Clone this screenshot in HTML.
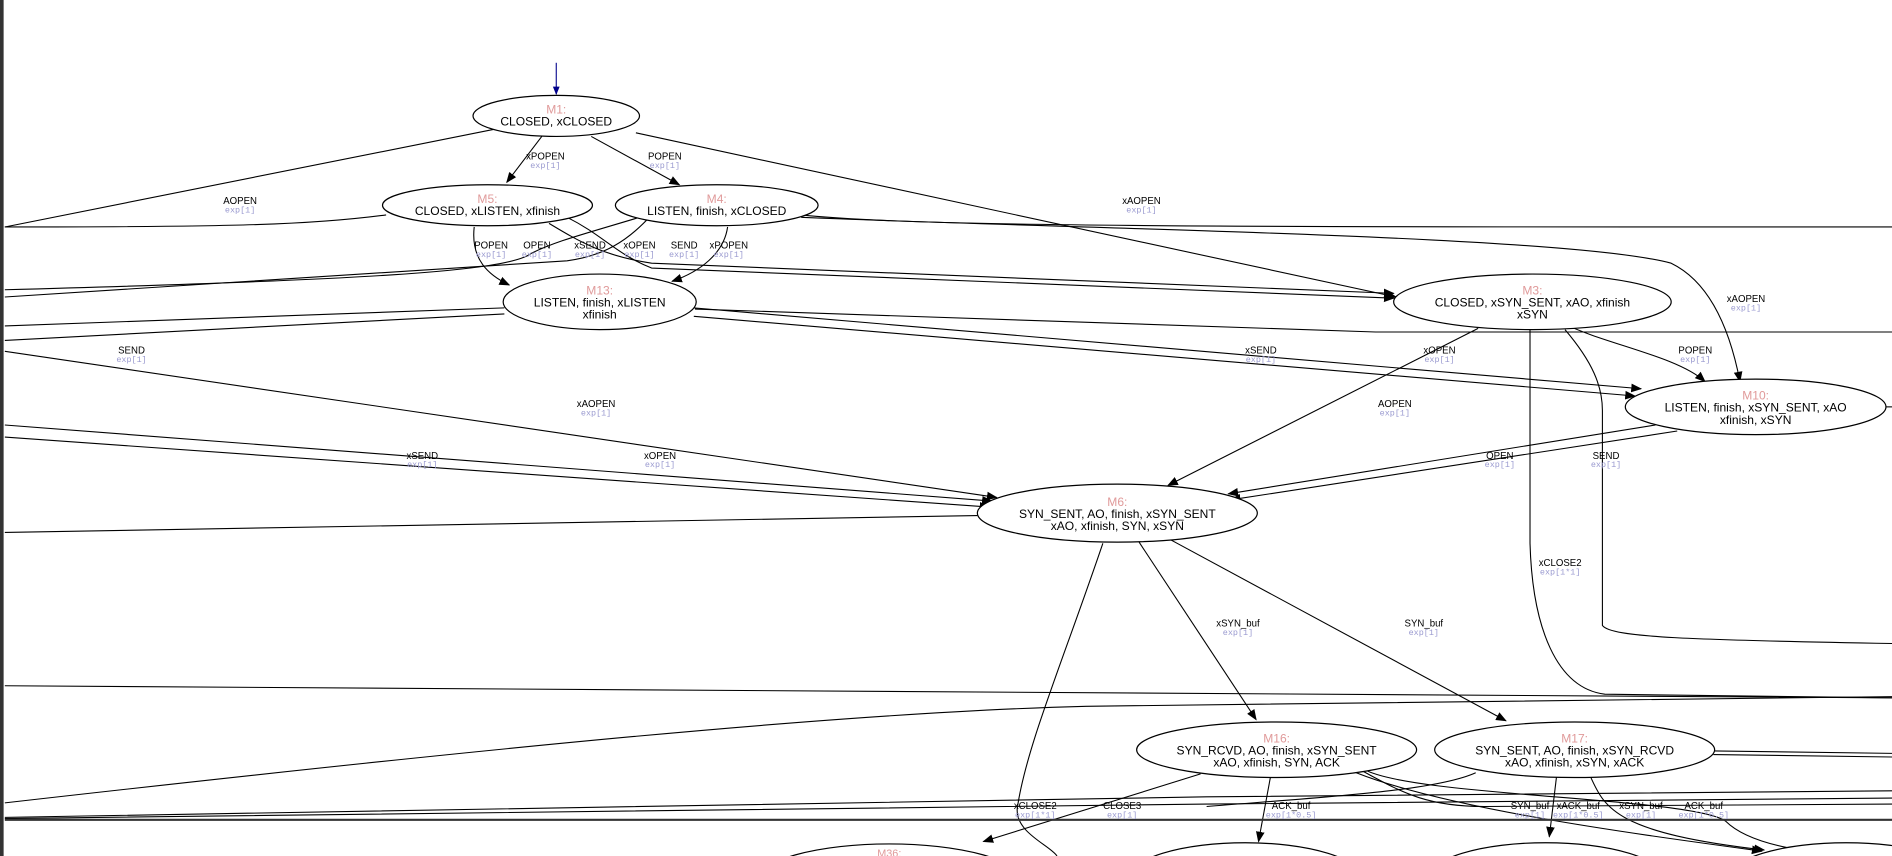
<!DOCTYPE html>
<html><head><meta charset="utf-8"><style>
html,body{margin:0;padding:0;background:#fff;width:1892px;height:856px;overflow:hidden}
svg{display:block;overflow:hidden}
.n{font-family:"Liberation Sans",sans-serif;font-size:10px;fill:#000;text-anchor:middle}
.m{fill:#e09a9a}
.l{font-family:"Liberation Sans",sans-serif;font-size:8px;fill:#000;text-anchor:middle}
.e{font-family:"Liberation Mono",monospace;font-size:7px;fill:#9a9ad0;text-anchor:middle}
path,line{fill:none;stroke:#000;stroke-width:0.9}
ellipse{fill:#fff;stroke:#000;stroke-width:1}
</style></head><body>
<svg width="1892" height="856" viewBox="0 0 1568 709" preserveAspectRatio="none">
<defs><marker id="a" viewBox="0 0 10 10" refX="9" refY="5" markerWidth="9" markerHeight="9" orient="auto" markerUnits="userSpaceOnUse"><path d="M0,1 L10,5 L0,9z" style="fill:#000;stroke:none"/></marker>
<marker id="b" viewBox="0 0 10 10" refX="9" refY="5" markerWidth="7" markerHeight="7" orient="auto" markerUnits="userSpaceOnUse"><path d="M0,1 L10,5 L0,9z" style="fill:#00008b;stroke:none"/></marker></defs>
<rect x="0" y="0" width="3" height="709" fill="#333"/>
<line x1="461" y1="52" x2="461" y2="78" style="stroke:#00008b" marker-end="url(#b)"/>
<path d="M449,113 L420,151" marker-end="url(#a)"/>
<path d="M490,113 L563,153" marker-end="url(#a)"/>
<path d="M410,107 L4,188"/>
<path d="M527,110 L1157,246" marker-end="url(#a)"/>
<path d="M320,178 C260,186 200,188 4,188"/>
<path d="M664,178 C760,188 1000,188 1568,188"/>
<path d="M664,180 C900,190 1300,195 1385,218 C1420,235 1435,280 1442,316" marker-end="url(#a)"/>
<path d="M455,185 C480,200 500,212 540,218 L1155,243" marker-end="url(#a)"/>
<path d="M470,180 C500,195 510,210 540,222 L1155,247" marker-end="url(#a)"/>
<path d="M530,180 C480,195 460,200 440,210 C420,225 300,232 4,240"/>
<path d="M540,178 C520,200 500,212 470,216 L4,246"/>
<path d="M393,188 C390,215 405,228 422,236" marker-end="url(#a)"/>
<path d="M603,188 C600,210 580,225 557,233" marker-end="url(#a)"/>
<path d="M418,255 L4,270"/>
<path d="M418,260 L4,282"/>
<path d="M4,291 L826,412" marker-end="url(#a)"/>
<path d="M575,255 L1360,322" marker-end="url(#a)"/>
<path d="M575,262 L1355,328" marker-end="url(#a)"/>
<path d="M576,256 L1140,275 L1568,275"/>
<path d="M4,352 L822,415" marker-end="url(#a)"/>
<path d="M4,362 L820,420" marker-end="url(#a)"/>
<path d="M810,427 L4,441"/>
<path d="M1225,272 L968,402" marker-end="url(#a)"/>
<path d="M1372,352 L1018,409" marker-end="url(#a)"/>
<path d="M1390,357 L1020,414" marker-end="url(#a)"/>
<path d="M1296,268 C1330,285 1390,295 1413,316" marker-end="url(#a)"/>
<path d="M1268,273 L1268,450 C1270,520 1290,570 1330,575 L1568,578"/>
<path d="M1297,273 C1320,300 1328,320 1328,340 L1328,518 C1335,528 1400,530 1568,533"/>
<path d="M1563,337 L1568,337"/>
<path d="M944,449 L1041,596" marker-end="url(#a)"/>
<path d="M970,447 L1248,597" marker-end="url(#a)"/>
<path d="M914,450 C880,550 850,620 843,670 C842,690 870,700 876,709"/>
<path d="M4,568 L1568,578"/>
<path d="M4,665 C400,620 700,590 900,585 L1568,577"/>
<path d="M4,678 L1000,666 L1568,661"/>
<path d="M4,677 L1000,660 L1568,655"/>
<path d="M995,641 L815,697" marker-end="url(#a)"/>
<path d="M1053,643 L1043,697" marker-end="url(#a)"/>
<path d="M1124,640 C1200,670 1350,690 1460,705" marker-end="url(#a)"/>
<path d="M1128,638 C1160,655 1180,668 1230,668 L1568,666"/>
<path d="M1130,637 C1170,660 1400,660 1430,680 C1450,700 1500,709 1568,709"/>
<path d="M1223,640 C1190,655 1100,660 1000,668"/>
<path d="M1290,643 L1284,693" marker-end="url(#a)"/>
<path d="M1318,643 C1330,670 1340,690 1462,704" marker-end="url(#a)"/>
<path d="M1420,622 L1568,624"/>
<path d="M1420,625 L1568,627"/>
<line x1="4" y1="679" x2="1568" y2="679" style="stroke:#333;stroke-width:1.8"/>
<ellipse cx="737" cy="730" rx="110" ry="31"/>
<text class="n m" x="737" y="710" style="font-size:9px">M36:</text>
<ellipse cx="1032" cy="728" rx="97" ry="30"/>
<ellipse cx="1281" cy="728" rx="98" ry="30"/>
<ellipse cx="1530" cy="728" rx="98" ry="30"/>
<ellipse cx="461" cy="96" rx="69" ry="17"/>
<text class="n m" x="461" y="94">M1:</text><text class="n" x="461" y="104">CLOSED, xCLOSED</text>
<ellipse cx="404" cy="170" rx="87" ry="17"/>
<text class="n m" x="404" y="168">M5:</text><text class="n" x="404" y="178">CLOSED, xLISTEN, xfinish</text>
<ellipse cx="594" cy="170" rx="84" ry="17"/>
<text class="n m" x="594" y="168">M4:</text><text class="n" x="594" y="178">LISTEN, finish, xCLOSED</text>
<ellipse cx="497" cy="250" rx="80" ry="23"/>
<text class="n m" x="497" y="244">M13:</text><text class="n" x="497" y="254">LISTEN, finish, xLISTEN</text><text class="n" x="497" y="264">xfinish</text>
<ellipse cx="1270" cy="250" rx="115" ry="23"/>
<text class="n m" x="1270" y="244">M3:</text><text class="n" x="1270" y="254">CLOSED, xSYN_SENT, xAO, xfinish</text><text class="n" x="1270" y="264">xSYN</text>
<ellipse cx="1455" cy="337" rx="108" ry="23"/>
<text class="n m" x="1455" y="331">M10:</text><text class="n" x="1455" y="341">LISTEN, finish, xSYN_SENT, xAO</text><text class="n" x="1455" y="351">xfinish, xSYN</text>
<ellipse cx="926" cy="425" rx="116" ry="24"/>
<text class="n m" x="926" y="419">M6:</text><text class="n" x="926" y="429">SYN_SENT, AO, finish, xSYN_SENT</text><text class="n" x="926" y="439">xAO, xfinish, SYN, xSYN</text>
<ellipse cx="1058" cy="621" rx="116" ry="23"/>
<text class="n m" x="1058" y="615">M16:</text><text class="n" x="1058" y="625">SYN_RCVD, AO, finish, xSYN_SENT</text><text class="n" x="1058" y="635">xAO, xfinish, SYN, ACK</text>
<ellipse cx="1305" cy="621" rx="116" ry="23"/>
<text class="n m" x="1305" y="615">M17:</text><text class="n" x="1305" y="625">SYN_SENT, AO, finish, xSYN_RCVD</text><text class="n" x="1305" y="635">xAO, xfinish, xSYN, xACK</text>
<g>
<text class="l" x="452" y="132">xPOPEN</text><text class="e" x="452" y="139">exp[1]</text>
<text class="l" x="551" y="132">POPEN</text><text class="e" x="551" y="139">exp[1]</text>
<text class="l" x="199" y="169">AOPEN</text><text class="e" x="199" y="176">exp[1]</text>
<text class="l" x="946" y="169">xAOPEN</text><text class="e" x="946" y="176">exp[1]</text>
<text class="l" x="407" y="206">POPEN</text><text class="e" x="407" y="213">exp[1]</text>
<text class="l" x="445" y="206">OPEN</text><text class="e" x="445" y="213">exp[1]</text>
<text class="l" x="489" y="206">xSEND</text><text class="e" x="489" y="213">exp[1]</text>
<text class="l" x="530" y="206">xOPEN</text><text class="e" x="530" y="213">exp[1]</text>
<text class="l" x="567" y="206">SEND</text><text class="e" x="567" y="213">exp[1]</text>
<text class="l" x="604" y="206">xPOPEN</text><text class="e" x="604" y="213">exp[1]</text>
<text class="l" x="1447" y="250">xAOPEN</text><text class="e" x="1447" y="257">exp[1]</text>
<text class="l" x="109" y="293">SEND</text><text class="e" x="109" y="300">exp[1]</text>
<text class="l" x="1045" y="293">xSEND</text><text class="e" x="1045" y="300">exp[1]</text>
<text class="l" x="1193" y="293">xOPEN</text><text class="e" x="1193" y="300">exp[1]</text>
<text class="l" x="1405" y="293">POPEN</text><text class="e" x="1405" y="300">exp[1]</text>
<text class="l" x="494" y="337">xAOPEN</text><text class="e" x="494" y="344">exp[1]</text>
<text class="l" x="1156" y="337">AOPEN</text><text class="e" x="1156" y="344">exp[1]</text>
<text class="l" x="350" y="380">xSEND</text><text class="e" x="350" y="387">exp[1]</text>
<text class="l" x="547" y="380">xOPEN</text><text class="e" x="547" y="387">exp[1]</text>
<text class="l" x="1243" y="380">OPEN</text><text class="e" x="1243" y="387">exp[1]</text>
<text class="l" x="1331" y="380">SEND</text><text class="e" x="1331" y="387">exp[1]</text>
<text class="l" x="1293" y="469">xCLOSE2</text><text class="e" x="1293" y="476">exp[1*1]</text>
<text class="l" x="1026" y="519">xSYN_buf</text><text class="e" x="1026" y="526">exp[1]</text>
<text class="l" x="1180" y="519">SYN_buf</text><text class="e" x="1180" y="526">exp[1]</text>
<text class="l" x="858" y="670">xCLOSE2</text><text class="e" x="858" y="677">exp[1*1]</text>
<text class="l" x="930" y="670">CLOSE3</text><text class="e" x="930" y="677">exp[1]</text>
<text class="l" x="1070" y="670">ACK_buf</text><text class="e" x="1070" y="677">exp[1*0.5]</text>
<text class="l" x="1268" y="670">SYN_buf</text><text class="e" x="1268" y="677">exp[1]</text>
<text class="l" x="1308" y="670">xACK_buf</text><text class="e" x="1308" y="677">exp[1*0.5]</text>
<text class="l" x="1360" y="670">xSYN_buf</text><text class="e" x="1360" y="677">exp[1]</text>
<text class="l" x="1412" y="670">ACK_buf</text><text class="e" x="1412" y="677">exp[1*0.5]</text>
</g>
</svg>
</body></html>
